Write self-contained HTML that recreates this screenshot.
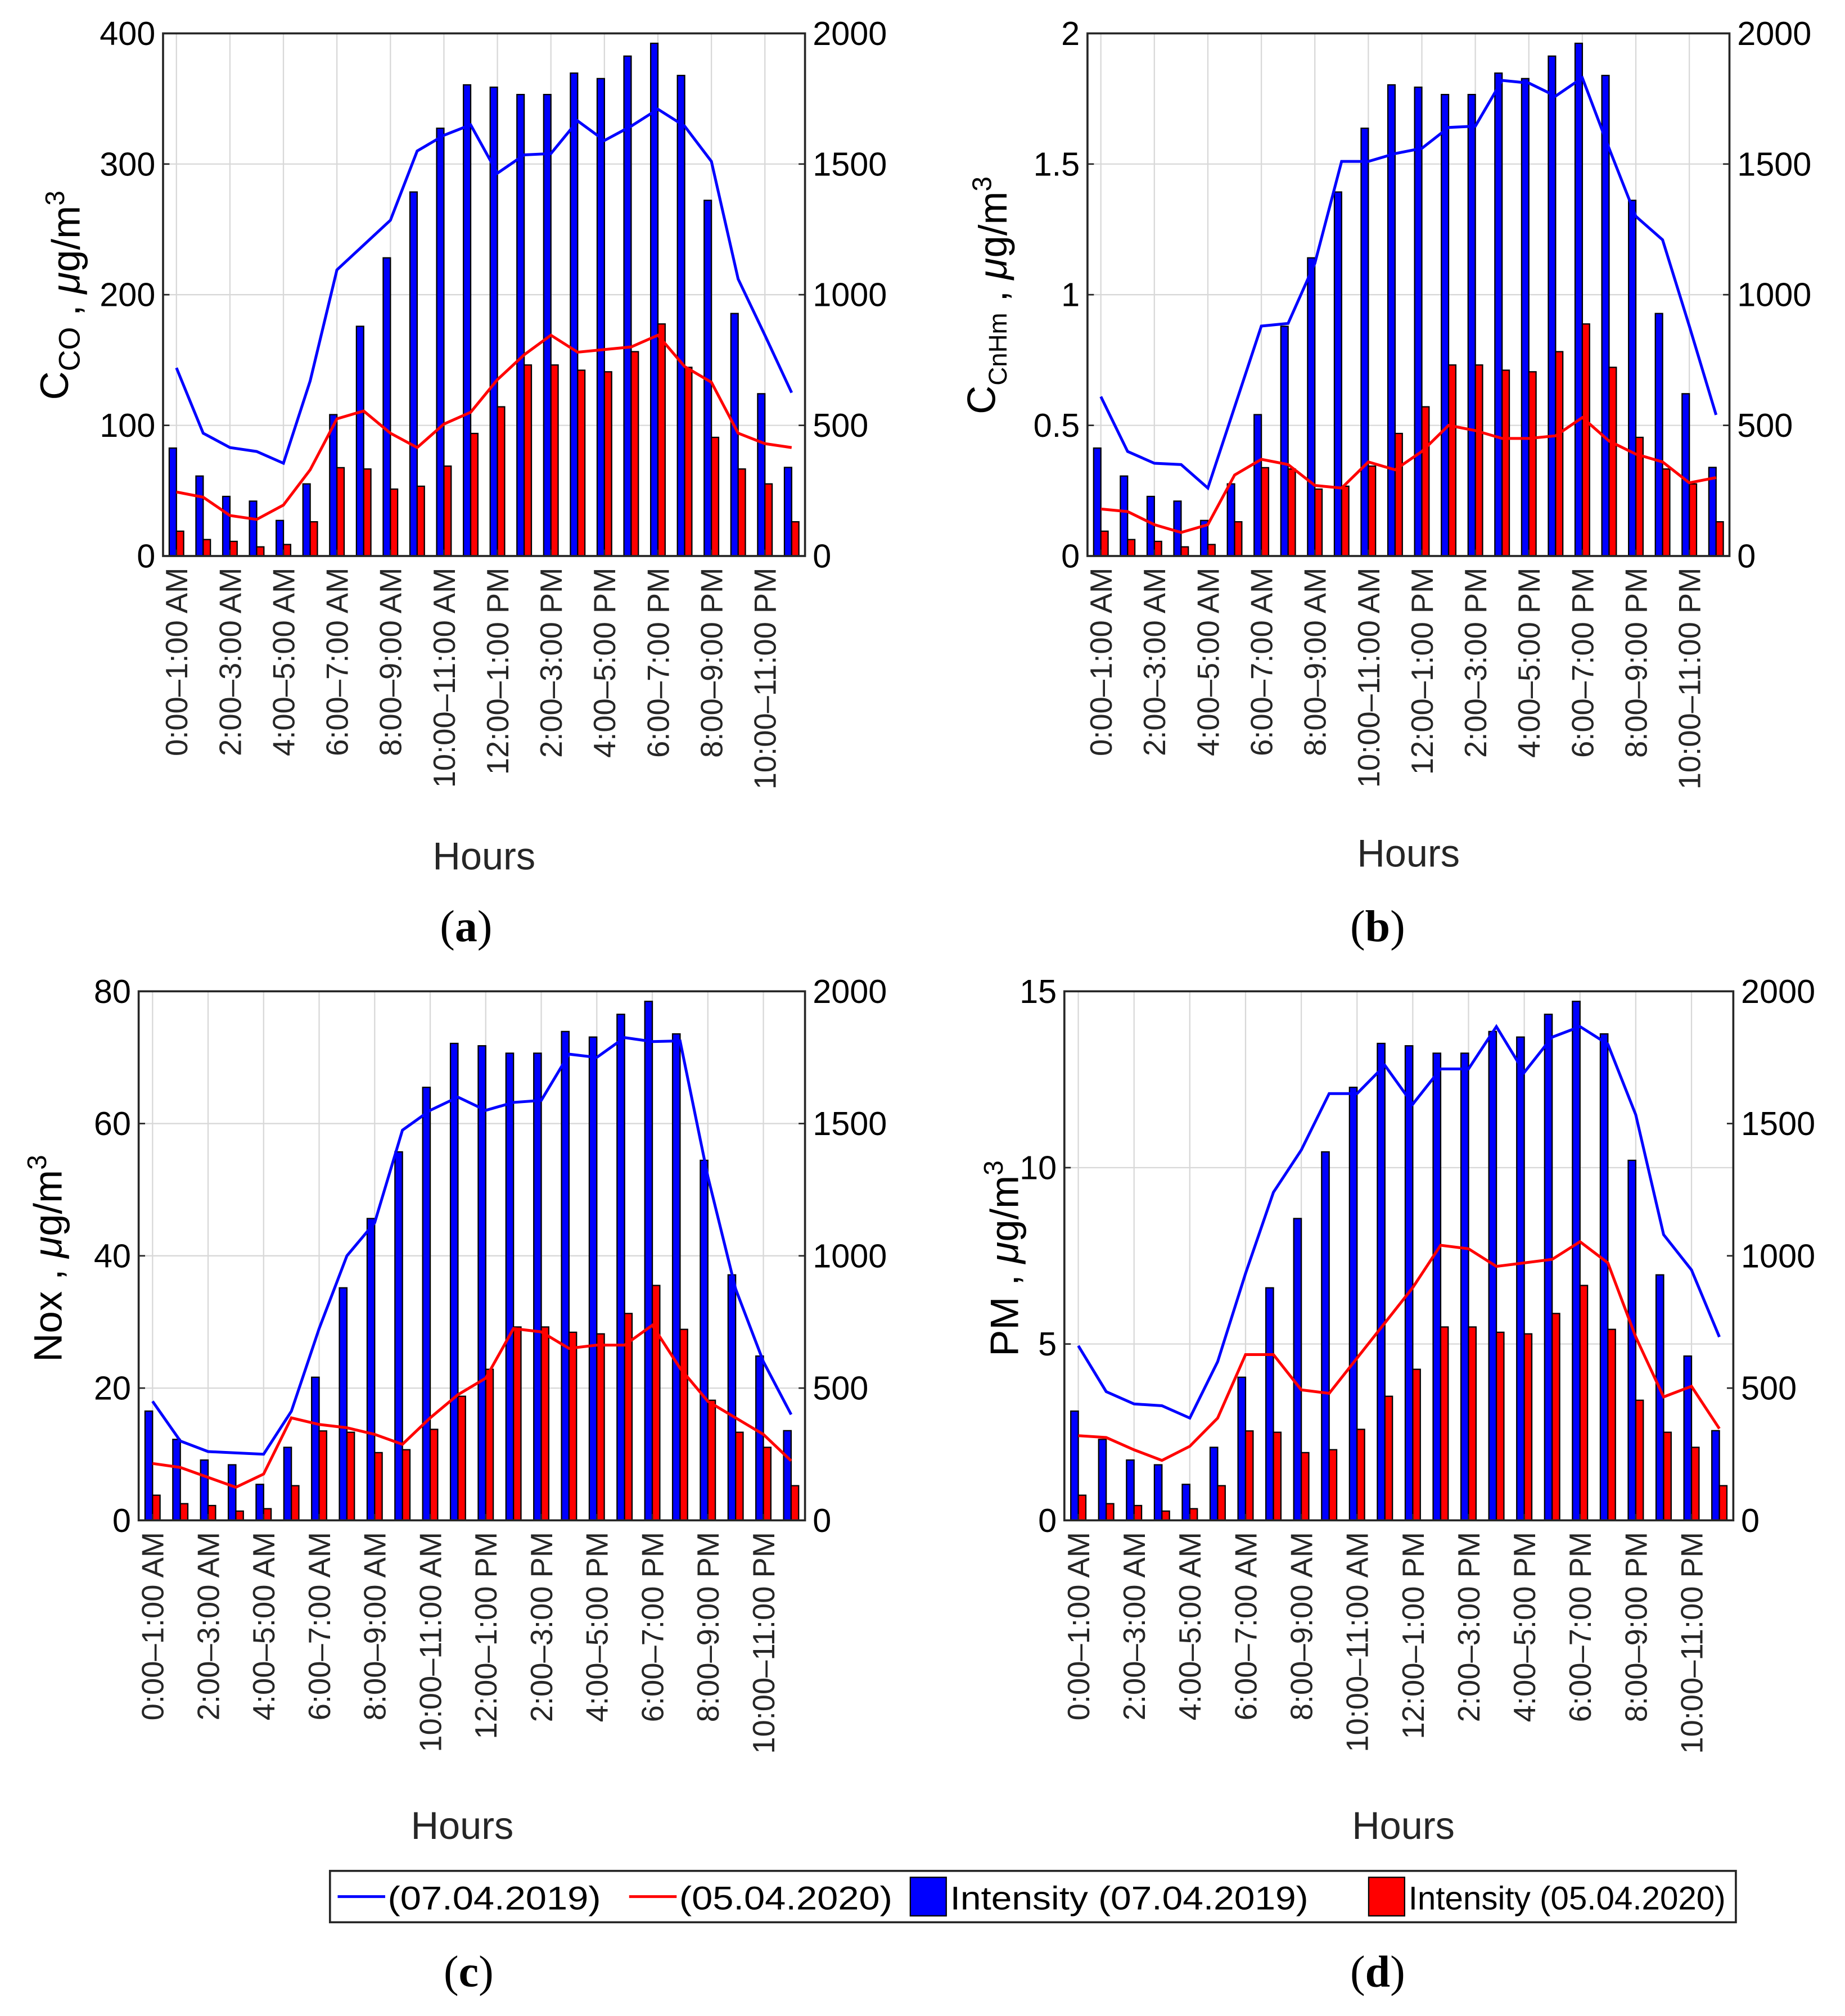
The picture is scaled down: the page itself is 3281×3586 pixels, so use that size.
<!DOCTYPE html>
<html><head><meta charset="utf-8"><style>html,body{margin:0;padding:0;background:#fff}svg{display:block}</style></head>
<body>
<svg id="fig" xmlns="http://www.w3.org/2000/svg" width="3281" height="3586" viewBox="0 0 1437 1570" preserveAspectRatio="none" font-family="Liberation Sans, Arial, sans-serif">
<rect width="1437" height="1570" fill="#fff"/>
</svg>
<script>
const hourLabels=["0:00\u20131:00 AM","2:00\u20133:00 AM","4:00\u20135:00 AM","6:00\u20137:00 AM","8:00\u20139:00 AM","10:00\u201311:00 AM","12:00\u20131:00 PM","2:00\u20133:00 PM","4:00\u20135:00 PM","6:00\u20137:00 PM","8:00\u20139:00 PM","10:00\u201311:00 PM"];
const intensity2019=[413,306,228,210,136,276,541,879,1141,1393,1637,1803,1794,1766,1766,1848,1827,1913,1962,1839,1361,928,621,339];
const intensity2020=[95,63,56,35,44,131,338,333,256,267,344,469,571,731,731,711,705,782,888,722,454,333,276,131];
const coLine2019=[144,94,83,80,71,134,219,238,257,310,322,330,293,307,308,333,318,329,342,329,302,212,169,125];
const coLine2020=[49,45,31,28,39,66,105,111,94,83,101,110,135,154,169,156,158,160,169,145,133,94,86,83];
const hcLine2019=[0.61,0.40,0.355,0.35,0.26,0.57,0.88,0.89,1.12,1.51,1.51,1.54,1.56,1.64,1.645,1.82,1.81,1.76,1.83,1.56,1.30,1.21,0.88,0.54];
const hcLine2020=[0.18,0.17,0.12,0.09,0.12,0.31,0.37,0.35,0.27,0.26,0.36,0.33,0.40,0.50,0.48,0.45,0.45,0.46,0.53,0.44,0.39,0.36,0.28,0.30];
const noxLine2019=[18,12,10.4,10.2,10,16.5,29,40,45,59,62,64,62,63.2,63.5,70.5,70,73,72.4,72.5,52,35,24,16];
const noxLine2020=[8.6,8,6.5,5,7,15.5,14.5,14,13,11.5,15.5,19,21.5,29,28.5,26,26.5,26.5,29.5,23,18,15.5,13,9];
const pmLine2019=[4.95,3.65,3.3,3.25,2.9,4.5,7.0,9.3,10.5,12.1,12.1,12.9,11.8,12.8,12.8,14.0,12.7,13.7,14.0,13.5,11.5,8.1,7.1,5.2];
const pmLine2020=[2.4,2.35,2.0,1.7,2.1,2.9,4.7,4.7,3.7,3.6,4.6,5.6,6.6,7.8,7.7,7.2,7.3,7.4,7.9,7.3,5.2,3.5,3.8,2.6];
const leftTicksA=["0","100","200","300","400"];
const leftTicksB=["0","0.5","1","1.5","2"];
const leftTicksC=["0","20","40","60","80"];
const leftTicksD=["0","5","10","15"];
const rightTicks=["0","500","1000","1500","2000"];

const NS="http://www.w3.org/2000/svg";
const svg=document.getElementById('fig');
function mk(tag,attrs,parent,txt){const e=document.createElementNS(NS,tag);for(const k in attrs)e.setAttribute(k,attrs[k]);if(txt!==undefined)e.textContent=txt;(parent||svg).appendChild(e);return e;}

function panel(id,L,R,T,B,lmax,lticks,l19,l20,ylabelParts,ylx,yly,hoursX,hoursY,cap,capX,capY){
  const g=mk('g',{});
  
  
  const n=24,w=(R-L)/n;
  const xc=i=>L+(i+0.5)*w;
  const yl=v=>B-(v/lmax)*(B-T);
  const yr=v=>B-(v/2000)*(B-T);
  lticks.forEach(t=>{const y=yl(parseFloat(t));
    const gl=mk('line',{x1:L,x2:R,y1:y,y2:y,stroke:'#d8d8d8','stroke-width':1},g);
    
    
  });
  for(let i=0;i<n;i+=2){const x=xc(i);
    const gl=mk('line',{x1:x,x2:x,y1:T,y2:B,stroke:'#d8d8d8','stroke-width':1},g);
    
    
  }
  const bw=0.27*w;
  for(let i=0;i<n;i++){
    const y1=yr(intensity2019[i]);
    const b1=mk('rect',{x:xc(i)-bw,y:y1,width:bw,height:B-y1,fill:'#0000ff',stroke:'#000','stroke-width':1},g);
    
    
    const y2=yr(intensity2020[i]);
    const b2=mk('rect',{x:xc(i),y:y2,width:bw,height:B-y2,fill:'#ff0000',stroke:'#000','stroke-width':1},g);
    
    
  }
  const p19=mk('polyline',{points:l19.map((v,i)=>xc(i)+','+yl(v)).join(' '),fill:'none',stroke:'#0000ff','stroke-width':2.2},g);
  
  
  const p20=mk('polyline',{points:l20.map((v,i)=>xc(i)+','+yl(v)).join(' '),fill:'none',stroke:'#ff0000','stroke-width':2.2},g);
  
  
  const fr=mk('rect',{x:L,y:T,width:R-L,height:B-T,fill:'none',stroke:'#262626','stroke-width':1.6},g);
  
  
  lticks.forEach(t=>{const y=yl(parseFloat(t));
    mk('line',{x1:L,x2:L+5,y1:y,y2:y,stroke:'#262626','stroke-width':1.2},g);
    const tx=mk('text',{x:L-6,y:y+9,'text-anchor':'end','font-size':26,fill:'#000'},g,t);
    
    
  });
  rightTicks.forEach(t=>{const y=yr(parseFloat(t));
    mk('line',{x1:R-5,x2:R,y1:y,y2:y,stroke:'#262626','stroke-width':1.2},g);
    const tx=mk('text',{x:R+6,y:y+9,'text-anchor':'start','font-size':26,fill:'#000'},g,t);
    
    
  });
  hourLabels.forEach((t,k)=>{const x=xc(2*k);
    mk('line',{x1:x,x2:x,y1:B-5,y2:B,stroke:'#262626','stroke-width':1.2},g);
    const tx=mk('text',{x:0,y:0,'text-anchor':'end','font-size':23.8,fill:'#262626',transform:`translate(${x+8.5},${B+9}) rotate(-90)`},g,t);
    
    
  });
  const yt=mk('text',{x:0,y:0,'text-anchor':'middle','font-size':31,fill:'#000',transform:`translate(${ylx},${yly}) rotate(-90)`},g);
  
  
  ylabelParts.forEach(p=>{mk('tspan',p.a||{},yt,p.t);});
  const ht=mk('text',{x:hoursX,y:hoursY,'text-anchor':'middle','font-size':30,fill:'#262626'},g,'Hours');
  
  
  const ct=mk('text',{x:capX,y:capY,'text-anchor':'middle','font-size':35,fill:'#000','font-family':'Liberation Serif, serif'},g);
  
  
  mk('tspan',{},ct,'(');mk('tspan',{'font-weight':'bold'},ct,cap);mk('tspan',{},ct,')');
}
const unit=[{t:' , '},{t:'\u03bc',a:{'font-style':'italic'}},{t:'g/m'},{t:'3',a:{'font-size':21,dy:-12}}];
panel('a',127,627,26,433,400,leftTicksA,coLine2019,coLine2020,[{t:'C'},{t:'CO',a:{'font-size':23,dy:9}},{t:'',a:{dy:-9}}].concat(unit),53,230,377,677,'a',363,733);
panel('b',847,1347,26,433,2,leftTicksB,hcLine2019,hcLine2020,[{t:'C'},{t:'CnHm',a:{'font-size':20,dy:9}},{t:'',a:{dy:-9}}].concat(unit),775,230,1097,675,'b',1073,733);
panel('c',108,627,772,1184,80,leftTicksC,noxLine2019,noxLine2020,[{t:'Nox'}].concat(unit),48,980,360,1432,'c',365,1547);
panel('d',829,1350,772,1184,15,leftTicksD,pmLine2019,pmLine2020,[{t:'PM'}].concat(unit),793,980,1093,1432,'d',1073,1547);

const lg=mk('g',{});


mk('rect',{x:257,y:1457,width:1095,height:40,fill:'#fff',stroke:'#262626','stroke-width':1.6},lg);
const items=[["line","#0000ff",263,"(07.04.2019)",166],["line","#ff0000",490,"(05.04.2020)",166],["patch","#0000ff",709,"Intensity (07.04.2019)",279],["patch","#ff0000",1066,"Intensity (05.04.2020)",247]];
items.forEach(it=>{
  const e=mk('g',{},lg);
  
  
  let tx;
  if(it[0]==='line'){mk('line',{x1:it[2],x2:it[2]+37,y1:1477,y2:1477,stroke:it[1],'stroke-width':2.2},e);tx=it[2]+39;}
  else{mk('rect',{x:it[2],y:1462,width:28,height:30,fill:it[1],stroke:'#000','stroke-width':1},e);tx=it[2]+31;}
  mk('text',{x:tx,y:1487,'font-size':25.5,fill:'#000',textLength:it[4],lengthAdjust:'spacingAndGlyphs'},e,it[3]);
});
</script>
</body></html>
